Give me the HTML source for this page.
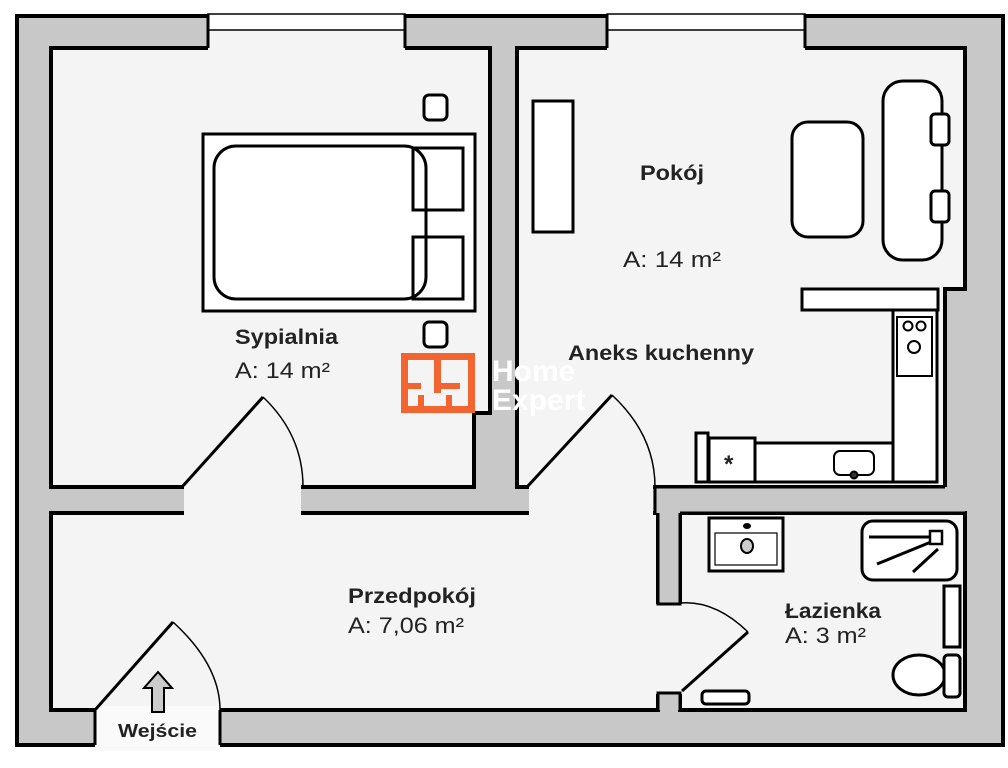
<!DOCTYPE html>
<html><head><meta charset="utf-8"><style>
html,body{margin:0;padding:0;background:#fff;width:1008px;height:768px;overflow:hidden}
svg{display:block}
text{font-family:"Liberation Sans",sans-serif;fill:#222}
.b{font-weight:bold}
</style></head><body>
<svg width="1008" height="768" viewBox="0 0 1008 768">
<rect x="0" y="0" width="1008" height="768" fill="#fff"/>
<rect x="17" y="16" width="986" height="729" fill="#c8c8c8" stroke="#000" stroke-width="4"/>
<g fill="#f4f4f4" stroke="#000" stroke-width="4" stroke-linejoin="miter">
<polygon points="51,48 490,48 490,413 474,413 474,487 51,487"/>
<polygon points="517,48 965,48 965,289 945,289 945,487 517,487"/>
<polygon points="51,513 658,513 658,710 51,710"/>
<polygon points="680,513 965,513 965,710 680,710"/>
</g>
<g fill="#f4f4f4">
<rect x="184" y="484" width="117" height="32"/>
<rect x="529" y="484" width="124" height="32"/>
<rect x="655" y="604" width="28" height="90"/>
</g>
<rect x="655" y="487" width="310" height="26" fill="#c8c8c8"/>
<path d="M655,487 H945 M655,487 V513 M680,513 H965" stroke="#000" stroke-width="3" fill="none"/>
<rect x="658" y="513" width="22" height="91" fill="#c8c8c8"/>
<path d="M658,513 V604 H680 V513" stroke="#000" stroke-width="3" fill="none"/>
<rect x="658" y="693" width="22" height="17" fill="#c8c8c8"/>
<path d="M658,710 V693 H680 V710" stroke="#000" stroke-width="3" fill="none"/>
<rect x="208" y="14" width="197" height="36" fill="#f4f4f4"/>
<rect x="208" y="14" width="197" height="16" fill="#fff" stroke="#000" stroke-width="1.5"/>
<path d="M208,14 V48 M405,14 V48" stroke="#000" stroke-width="3"/>
<rect x="607" y="14" width="198" height="36" fill="#f4f4f4"/>
<rect x="607" y="14" width="198" height="16" fill="#fff" stroke="#000" stroke-width="1.5"/>
<path d="M607,14 V48 M805,14 V48" stroke="#000" stroke-width="3"/>
<rect x="95" y="706" width="125" height="45" fill="#fafafa"/>
<path d="M95,710 V745 M220,710 V745" stroke="#000" stroke-width="3"/>
<g fill="none" stroke="#000">
<path d="M182,487 L263,397" stroke-width="3"/>
<path d="M263,397 Q303,435 303,487" stroke-width="1.5"/>
<path d="M527,487 L612,395" stroke-width="3"/>
<path d="M612,395 Q655,435 655,487" stroke-width="1.5"/>
<path d="M95,710 L173,622" stroke-width="3"/>
<path d="M173,622 Q220,665 220,710" stroke-width="1.5"/>
<path d="M682,691 L748,632" stroke-width="3"/>
<path d="M680,603 Q715,600 748,632" stroke-width="1.5"/>
</g>
<g fill="#fff" stroke="#000" stroke-width="3">
<rect x="424" y="95" width="23" height="25" rx="5"/>
<rect x="424" y="322" width="23" height="25" rx="5"/>
<rect x="203" y="134" width="272" height="177"/>
<rect x="214" y="146" width="212" height="153" rx="22" fill="none"/>
<rect x="413" y="148" width="50" height="62" fill="none"/>
<rect x="413" y="237" width="50" height="62" fill="none"/>
</g>
<g fill="#fff" stroke="#000" stroke-width="3">
<rect x="533" y="101" width="40" height="131"/>
<rect x="792" y="122" width="71" height="115" rx="16"/>
<rect x="883" y="81" width="59" height="179" rx="20"/>
<rect x="931" y="114" width="18" height="31" rx="4"/>
<rect x="931" y="191" width="18" height="31" rx="4"/>
<rect x="802" y="289" width="136" height="21"/>
<rect x="893" y="310" width="44" height="172"/>
<rect x="897" y="317" width="35" height="59" stroke-width="2"/>
<rect x="755" y="443" width="138" height="39"/>
<rect x="709" y="438" width="46" height="44"/>
<rect x="696" y="433" width="12" height="49"/>
<rect x="834" y="451" width="40" height="24" rx="6" stroke-width="2"/>
</g>
<g fill="#fff" stroke="#000" stroke-width="2">
<circle cx="908" cy="326" r="4.5"/><circle cx="921" cy="326" r="4.5"/><circle cx="914" cy="347" r="6"/>
<circle cx="854" cy="475" r="3.5" fill="#333"/>
</g>
<text x="724" y="472" font-size="24" class="b">*</text>
<g fill="#fff" stroke="#000" stroke-width="3">
<rect x="709" y="518" width="74" height="53"/>
<rect x="715" y="533" width="62" height="32" stroke-width="1.2"/>
<rect x="862" y="521" width="95" height="59" rx="11"/>
<rect x="944" y="586" width="16" height="61"/>
<ellipse cx="919" cy="675" rx="26" ry="20"/>
<rect x="944" y="655" width="16" height="42" rx="4"/>
<rect x="702" y="691" width="47" height="13" rx="4"/>
</g>
<ellipse cx="747" cy="526" rx="4" ry="3" fill="#000"/>
<ellipse cx="747" cy="546" rx="6" ry="7" fill="#ccc" stroke="#000" stroke-width="2"/>
<path d="M869,537 H930 M877,564 L931,542 M913,572 L938,549" stroke="#000" stroke-width="3"/>
<rect x="930" y="531" width="12" height="13" fill="#fff" stroke="#000" stroke-width="2.5"/>
<g fill="#f26430">
<rect x="401" y="353" width="74" height="7"/>
<rect x="401" y="406" width="74" height="7"/>
<rect x="401" y="353" width="7" height="60"/>
<rect x="468" y="353" width="7" height="60"/>
<rect x="434" y="353" width="7" height="40"/>
<rect x="401" y="383" width="20" height="6"/>
<rect x="440" y="383" width="20" height="6"/>
<rect x="418" y="395" width="6" height="18"/>
<rect x="446" y="395" width="6" height="18"/>
</g>
<text x="492" y="381" font-size="30" class="b" style="fill:#fff">Home</text>
<text x="492" y="410" font-size="30" class="b" style="fill:#fff">Expert</text>
<text x="235" y="344" font-size="21" class="b" textLength="103" lengthAdjust="spacingAndGlyphs">Sypialnia</text>
<text x="235" y="378" font-size="22" textLength="95" lengthAdjust="spacingAndGlyphs">A: 14 m²</text>
<text x="640" y="180" font-size="21" class="b" textLength="64" lengthAdjust="spacingAndGlyphs">Pokój</text>
<text x="623" y="267" font-size="22" textLength="98" lengthAdjust="spacingAndGlyphs">A: 14 m²</text>
<text x="568" y="360" font-size="21" class="b" textLength="186" lengthAdjust="spacingAndGlyphs">Aneks kuchenny</text>
<text x="348" y="603" font-size="21" class="b" textLength="128" lengthAdjust="spacingAndGlyphs">Przedpokój</text>
<text x="348" y="633" font-size="22" textLength="116" lengthAdjust="spacingAndGlyphs">A: 7,06 m²</text>
<text x="785" y="618" font-size="21" class="b" textLength="96" lengthAdjust="spacingAndGlyphs">Łazienka</text>
<text x="785" y="643" font-size="22" textLength="81" lengthAdjust="spacingAndGlyphs">A: 3 m²</text>
<text x="118" y="737" font-size="18" class="b" textLength="79" lengthAdjust="spacingAndGlyphs">Wejście</text>
<path d="M158,672 L172,688 H164 V712 H152 V688 H144 Z" fill="#ccc" stroke="#000" stroke-width="2"/>
</svg>
</body></html>
